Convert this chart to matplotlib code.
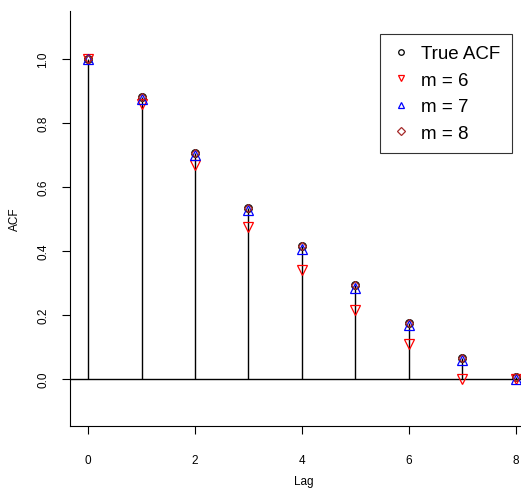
import matplotlib
matplotlib.use("Agg")
import matplotlib.pyplot as plt
import numpy as np

lags = [0, 1, 2, 3, 4, 5, 6, 7, 8]
true_acf = [1.0, 0.88, 0.705, 0.535, 0.415, 0.295, 0.175, 0.065, 0.005]
acf_m6 = [1.0, 0.86, 0.668, 0.475, 0.342, 0.215, 0.11, 0.0, 0.0]
acf_m7 = [1.0, 0.875, 0.70, 0.527, 0.407, 0.285, 0.168, 0.058, 0.0]
acf_m8 = [1.0, 0.88, 0.705, 0.535, 0.415, 0.295, 0.175, 0.065, 0.005]
xticks = [0, 2, 4, 6, 8]
yticks = [0.0, 0.2, 0.4, 0.6, 0.8, 1.0]

plt.rcParams['font.family'] = ['Liberation Sans', 'DejaVu Sans']

W, H = 521, 489
fig = plt.figure(figsize=(W / 100, H / 100), dpi=100)
# axes box in pixels: left 70, right ~537 (past the image edge), top 12, bottom 427
ax = fig.add_axes([70 / W, 62 / H, (537 - 70) / W, (427 - 12) / H])
ax.set_xlim(-0.34, 8.4)
ax.set_ylim(-0.147, 1.15)

ax.vlines(lags, 0, true_acf, color='black', lw=1)
ax.axhline(0, color='black', lw=1)

ms = 5.5
ax.plot(lags, true_acf, 'o', mfc='none', mec='black', ms=ms, mew=0.9, label='True ACF')
ax.plot(lags, acf_m6, 'v', mfc='none', mec='red', ms=ms + 1, mew=0.9, label='m = 6')
ax.plot(lags, acf_m7, '^', mfc='none', mec='blue', ms=ms + 1, mew=0.9, label='m = 7')
ax.plot(lags, acf_m8, 'D', mfc='none', mec='#A52A2A', ms=ms - 1, mew=0.9, label='m = 8')

for s in ['top', 'right']:
    ax.spines[s].set_visible(False)
ax.set_xticks(xticks)
ax.set_yticks(yticks)
ax.set_yticklabels(['0.0', '0.2', '0.4', '0.6', '0.8', '1.0'], rotation=90, va='center')
ax.tick_params(labelsize=8.5, length=6, width=0.8, pad=14)
ax.tick_params(axis='y', pad=9)
ax.set_xlabel('Lag', fontsize=8.5, labelpad=7)
ax.set_ylabel('ACF', fontsize=8.5, labelpad=12)

leg = ax.legend(loc='upper left', bbox_to_anchor=(380 / W, 1 - 35 / H),
                bbox_transform=fig.transFigure, fontsize=13.5, frameon=True,
                fancybox=False, edgecolor='black', handlelength=1.0,
                handletextpad=0.6, borderpad=0.6, labelspacing=0.5,
                borderaxespad=0)
leg.get_frame().set_linewidth(0.8)
for h in leg.legend_handles:
    h.set_markersize(4)

fig.savefig('out.png', dpi=100)
